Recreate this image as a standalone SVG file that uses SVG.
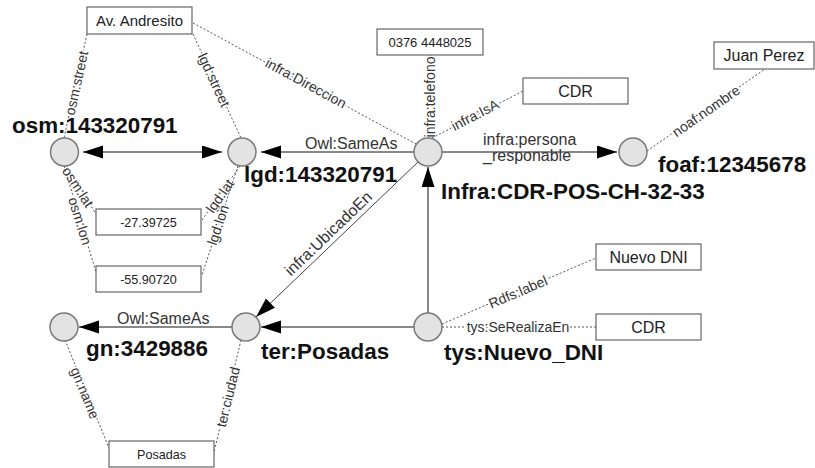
<svg xmlns="http://www.w3.org/2000/svg" width="815" height="468" viewBox="0 0 815 468">
<defs>
<marker id="ah" markerUnits="userSpaceOnUse" markerWidth="21" markerHeight="14" refX="20" refY="6.5" orient="auto-start-reverse" viewBox="0 0 21 14">
<path d="M0,0 L20,6.5 L0,13 z" fill="#000"/>
</marker>
<style>
.bg{fill:#fff}
.node circle{fill:#e3e3e3;stroke:#7a7a7a;stroke-width:1.5}
.box rect{fill:#fff;stroke:#666;stroke-width:1.2}
.box text{font-family:"Liberation Sans",Arial,sans-serif;fill:#222;text-anchor:middle}
.nl{font-family:"Liberation Sans",Arial,sans-serif;font-weight:bold;font-size:22.4px;fill:#111}
.solid{stroke:#888;stroke-width:2;fill:none}
.thin{stroke:#444;stroke-width:1;fill:none}
.dot{stroke:#555;stroke-width:1;stroke-dasharray:2,2;fill:none}
.el{font-family:"Liberation Sans",Arial,sans-serif;font-size:16px;fill:#333}
.dl{font-family:"Liberation Sans",Arial,sans-serif;font-size:14px;fill:#333;text-anchor:middle;stroke:#fff;stroke-width:3;paint-order:stroke;stroke-linejoin:round}
</style>
</defs>
<rect class="bg" x="0" y="0" width="815" height="468"/>
<g id="connectors">
<line class="solid" x1="83" y1="152" x2="222" y2="152" marker-start="url(#ah)" marker-end="url(#ah)"/>
<line class="solid" x1="414" y1="152" x2="261" y2="152" marker-end="url(#ah)"/>
<text class="el" x="305" y="149">Owl:SameAs</text>
<line class="solid" x1="442" y1="152" x2="617" y2="152" marker-end="url(#ah)"/>
<text class="el" x="483" y="145">infra:persona</text>
<text class="el" x="483" y="161">_responable</text>
<line class="solid" x1="428" y1="313" x2="428" y2="167" marker-end="url(#ah)"/>
<line class="solid" x1="414" y1="327" x2="261" y2="327" marker-end="url(#ah)"/>
<line class="solid" x1="232" y1="327" x2="79" y2="327" marker-end="url(#ah)"/>
<text class="el" x="117" y="324">Owl:SameAs</text>
<line class="thin" x1="418" y1="162" x2="256" y2="317" marker-end="url(#ah)"/>
<text class="el" text-anchor="middle" transform="translate(335.6,241) rotate(-43.8)" y="-5">infra:UbicadoEn</text>

<line class="dot" x1="87" y1="34" x2="64" y2="138"/>
<text class="dl" transform="translate(76.5,83) rotate(-77.5)" dy="0.35em">osm:street</text>
<line class="dot" x1="193" y1="34" x2="241" y2="138"/>
<text class="dl" transform="translate(214,80) rotate(65.2)" dy="0.35em">lgd:street</text>
<line class="dot" x1="193" y1="23" x2="416" y2="144"/>
<text class="dl" transform="translate(306,83) rotate(28.5)" dy="0.35em">infra:Direccion</text>
<line class="dot" x1="430" y1="55" x2="428" y2="138"/>
<text class="dl" transform="translate(430,97) rotate(-90)" dy="0.35em">infra:telefono</text>
<line class="dot" x1="432" y1="138" x2="523" y2="91"/>
<text class="dl" transform="translate(475,115) rotate(-27.3)" dy="0.35em">infra:IsA</text>
<line class="dot" x1="647" y1="151" x2="765" y2="69"/>
<text class="dl" transform="translate(706,111) rotate(-34.8)" dy="0.35em">noaf:nombre</text>
<line class="dot" x1="66" y1="166" x2="96" y2="214"/>
<text class="dl" transform="translate(78,187) rotate(57)" dy="0.35em">osm:lat</text>
<line class="dot" x1="64" y1="166" x2="96" y2="272"/>
<text class="dl" transform="translate(80,221) rotate(72.6)" dy="0.35em">osm:lon</text>
<line class="dot" x1="240" y1="166" x2="202" y2="220"/>
<text class="dl" transform="translate(220,196) rotate(-54.9)" dy="0.35em">lgd:lat</text>
<line class="dot" x1="238" y1="166" x2="202" y2="275"/>
<text class="dl" transform="translate(218,225) rotate(-71.7)" dy="0.35em">lgd:lon</text>
<line class="dot" x1="65" y1="340" x2="109" y2="448"/>
<text class="dl" transform="translate(85,393) rotate(67.8)" dy="0.35em">gn:name</text>
<line class="dot" x1="241" y1="340" x2="214" y2="452"/>
<text class="dl" transform="translate(228,397) rotate(-76.4)" dy="0.35em">ter:ciudad</text>
<line class="dot" x1="442" y1="324" x2="596" y2="258"/>
<text class="dl" transform="translate(518,292) rotate(-23.2)" dy="0.35em">Rdfs:label</text>
<line class="dot" x1="442" y1="327" x2="596" y2="327"/>
<text class="dl" transform="translate(518,327)" dy="0.35em">tys:SeRealizaEn</text>
</g>

<g id="osm" class="node"><circle cx="64.5" cy="152" r="14"/><text class="nl" x="12" y="133">osm:143320791</text></g>
<g id="lgd" class="node"><circle cx="242" cy="152" r="14"/><text class="nl" x="244" y="182">lgd:143320791</text></g>
<g id="infra" class="node"><circle cx="428" cy="152" r="14"/><text class="nl" x="441" y="199">Infra:CDR-POS-CH-32-33</text></g>
<g id="foaf" class="node"><circle cx="633" cy="152" r="14"/><text class="nl" x="658" y="172">foaf:12345678</text></g>
<g id="gn" class="node"><circle cx="64" cy="327" r="14"/><text class="nl" x="86" y="356">gn:3429886</text></g>
<g id="ter" class="node"><circle cx="246" cy="327" r="14"/><text class="nl" x="261" y="359">ter:Posadas</text></g>
<g id="tys" class="node"><circle cx="428" cy="327" r="14"/><text class="nl" x="444" y="360">tys:Nuevo_DNI</text></g>

<g id="b-andresito" class="box"><rect x="87" y="7" width="105" height="27"/><text x="139.5" y="26" font-size="15">Av. Andresito</text></g>
<g id="b-telefono" class="box"><rect x="377" y="29" width="106" height="26"/><text x="430" y="47" font-size="13">0376 4448025</text></g>
<g id="b-cdr1" class="box"><rect x="523" y="78" width="105" height="26"/><text x="575.5" y="97" font-size="16">CDR</text></g>
<g id="b-juan" class="box"><rect x="714" y="42" width="100" height="27"/><text x="764" y="61" font-size="16">Juan Perez</text></g>
<g id="b-lat" class="box"><rect x="96" y="209" width="105" height="26"/><text x="148.5" y="227" font-size="12.6">-27.39725</text></g>
<g id="b-lon" class="box"><rect x="96" y="266" width="105" height="26"/><text x="148.5" y="284" font-size="12.6">-55.90720</text></g>
<g id="b-posadas" class="box"><rect x="109" y="441" width="105" height="26"/><text x="161.5" y="459" font-size="12.6">Posadas</text></g>
<g id="b-nuevodni" class="box"><rect x="596" y="244" width="105" height="26"/><text x="648.5" y="263" font-size="16">Nuevo DNI</text></g>
<g id="b-cdr2" class="box"><rect x="596" y="314" width="105" height="26"/><text x="648.5" y="333" font-size="16">CDR</text></g>
</svg>
